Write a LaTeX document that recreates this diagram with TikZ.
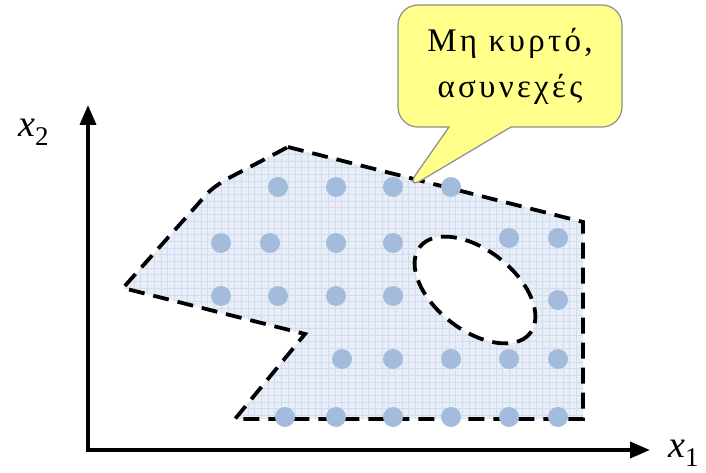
\documentclass[tikz,border=0pt]{standalone}
\usepackage{fontspec}
\setmainfont{Liberation Serif}
\newfontfamily\grk[LetterSpace=10]{Liberation Serif}
\usetikzlibrary{arrows.meta,shapes.callouts}
\definecolor{regfill}{HTML}{E8EEF7}
\definecolor{reggrid}{HTML}{D2DCEE}
\definecolor{dotcol}{HTML}{A4BCDB}
\definecolor{callfill}{HTML}{FFFF8A}
\definecolor{callborder}{HTML}{8C8C8C}
\tikzset{
  axis/.style={line width=3.6pt,-{Triangle[length=20pt,width=16pt]}},
  bound/.style={line width=3.8pt,dash pattern=on 16pt off 9pt,line cap=butt},
  dotpt/.style={circle,fill=dotcol,inner sep=0pt,minimum size=20pt},
  axlabel/.style={inner sep=0pt},
}
\begin{document}
\begin{tikzpicture}[x=1pt,y=-1pt]
\useasboundingbox (0,0) rectangle (706,473);
% region
\def\regionpath{(288,147) -- (583,222) -- (583,419) -- (235,419) -- (305,334) -- (123,288) -- (198,204) .. controls (210,190) .. (225,180) -- cycle}
\fill[regfill] \regionpath;
\begin{scope}
  \clip \regionpath;
  \draw[reggrid,line width=0.5pt,step=6.7pt] (100,140) grid (600,430);
\end{scope}
\fill[white,shift={(475,290)},rotate=-38] (0,0) ellipse [x radius=70, y radius=40];
\draw[bound] \regionpath;
\draw[bound,shift={(475,290)},rotate=-38] (0,0) ellipse [x radius=70, y radius=40];
% dots
\foreach \x/\y [count=\i] in {278/187,336/187,393/187,451/187,
  221/243,270/243,336/243,393/243,509/238,558/238,
  221/296,278/296,336/296,393/296,558/300,
  342/359,393/359,451/359,509/359,558/359,
  285/417,336/417,393/417,451/417,509/417,558/417}
  \node[dotpt] (d\i) at (\x,\y) {};
% axes
\coordinate (o) at (88,450);
\coordinate (ytop) at (88,105);
\coordinate (xend) at (650,450);
\draw[axis] (o) -- (ytop);
\draw[axis] ([xshift=-1.8pt]o) -- (xend);
\node[axlabel,anchor=base west] (x2) at (18,137) {\fontsize{38}{38}\selectfont\itshape x\raisebox{-9pt}{\fontsize{27}{27}\selectfont\upshape 2}};
\node[axlabel,anchor=base west] (x1) at (668,457) {\fontsize{38}{38}\selectfont\itshape x\raisebox{-9pt}{\fontsize{27}{27}\selectfont\upshape 1}};
% callout
\node[rectangle callout,rounded corners=20pt,fill=callfill,draw=callborder,line width=1.2pt,
  minimum width=224pt,minimum height=122pt,inner sep=0pt,align=center,
  font=\grk\fontsize{33}{46}\selectfont,
  callout absolute pointer={(405,190)},callout pointer width=62pt] (callout) at (510,66)
  {Μη κυρτό,\\ ασυνεχές};
\end{tikzpicture}
\end{document}
